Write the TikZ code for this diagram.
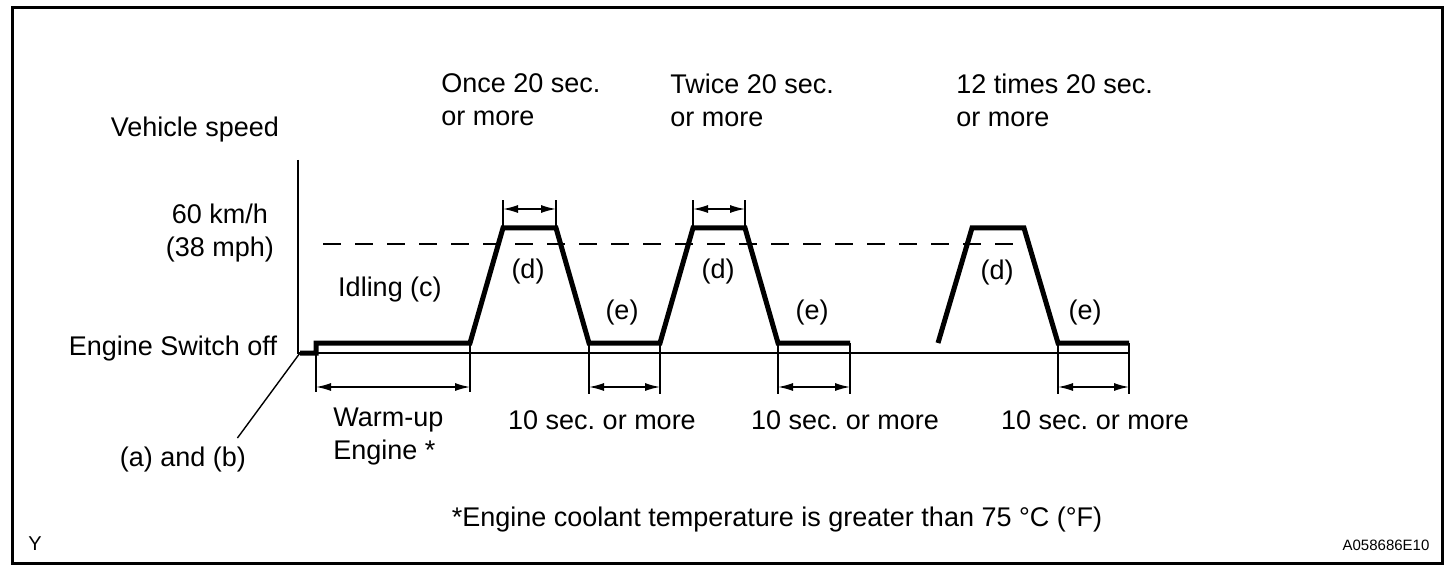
\documentclass[tikz,border=0pt]{standalone}
\usepackage{fontspec}
\setmainfont{Liberation Sans}
\frenchspacing
\usetikzlibrary{arrows.meta}
\begin{document}
\begin{tikzpicture}[x=0.5pt,y=-0.5pt,
    every node/.style =
    {   inner sep=0pt, align=left,
        font=\fontsize{13.5}{16.5}\selectfont,
    },
    profile/.style = {line width=2.5pt, line join=miter},
    thinline/.style = {line width=0.7pt},
    dimension/.style = {line width=0.7pt,
        {Latex[length=7.5pt,width=4pt]}-{Latex[length=7.5pt,width=4pt]}},
  ]
\useasboundingbox (0,0) rectangle (1456,572);
\draw[line width=1.5pt] (12,8) rectangle (1442,563);

% axes
\coordinate (top) at (298,160);
\coordinate (origin) at (298,353);
\coordinate (end) at (1129,353);
\draw[thinline] (top) -- (origin) -- (end);
\draw[line width=1pt, dash pattern=on 9pt off 7pt] (323,244) -- (1028,244);

% speed profile
\draw[profile] (300,353) coordinate (p0) -- (316,353) coordinate (p1)
    -- (316,343) coordinate (p2) -- (470,343) coordinate (p3)
    -- (503,228) coordinate (p4) -- (556,228) coordinate (p5)
    -- (589,343) coordinate (p6) -- (660,343) coordinate (p7)
    -- (693,228) coordinate (p8) -- (745,228) coordinate (p9)
    -- (778,343) coordinate (p10) -- (850,343) coordinate (p11);
\draw[profile] (938,343) coordinate (q0) -- (972,228) coordinate (q1)
    -- (1024,228) coordinate (q2) -- (1058,343) coordinate (q3)
    -- (1129,343) coordinate (q4);

% top dimensions
\draw[thinline] (p4) -- ++(0,-28) (p5) -- ++(0,-28)
    (p8) -- ++(0,-28) (p9) -- ++(0,-28);
\draw[dimension] ([yshift=9.5pt]p4) -- ([yshift=9.5pt]p5);
\draw[dimension] ([yshift=9.5pt]p8) -- ([yshift=9.5pt]p9);

% bottom dimensions
\draw[thinline] (p2) -- ++(0,49) (p3) -- ++(0,49)
    (p6) -- ++(0,51) (p7) -- ++(0,51)
    (p10) -- ++(0,51) (p11) -- ++(0,51)
    (q3) -- ++(0,51) (q4) -- ++(0,51);
\draw[dimension] ([yshift=-22pt]p2) -- ([yshift=-22pt]p3);
\draw[dimension] ([yshift=-22pt]p6) -- ([yshift=-22pt]p7);
\draw[dimension] ([yshift=-22pt]p10) -- ([yshift=-22pt]p11);
\draw[dimension] ([yshift=-22pt]q3) -- ([yshift=-22pt]q4);

% labels
\node (speed) at (195,130) {Vehicle speed};
\node[align=center] (kmh) at (220,233) {60 km/h\\(38 mph)};
\node (switch) at (173,349) {Engine Switch off};
\node (ab) at (183,460) {(a) and (b)};
\draw[thinline] (p0) -- ([xshift=-4.5pt,yshift=4.5pt]ab.north east);
\node[anchor=west] (once) at (441,100) {Once 20 sec.\\or more};
\node[anchor=west] (twice) at (670,100) {Twice 20 sec.\\or more};
\node[anchor=west] (twelve) at (956,100) {12 times 20 sec.\\or more};
\node (idling) at (390,290) {Idling (c)};
\node (d1) at (528,272) {(d)};
\node (d2) at (718,272) {(d)};
\node (d3) at (997,273) {(d)};
\node (e1) at (622,313) {(e)};
\node (e2) at (812,313) {(e)};
\node (e3) at (1085,313) {(e)};
\node[anchor=west] (warmup) at (333,437) {Warm-up\\Engine *};
\node (ten1) at (602,420) {10 sec. or more};
\node (ten2) at (845,420) {10 sec. or more};
\node (ten3) at (1095,420) {10 sec. or more};
\node (note) at (777,520) {*Engine coolant temperature is greater than 75 °C (°F)};
\node[font=\fontsize{10}{12}\selectfont] (fig) at (35,544) {Y};
\node[font=\fontsize{7.5}{9}\selectfont] (code) at (1386,545) {A058686E10};
\end{tikzpicture}
\end{document}
